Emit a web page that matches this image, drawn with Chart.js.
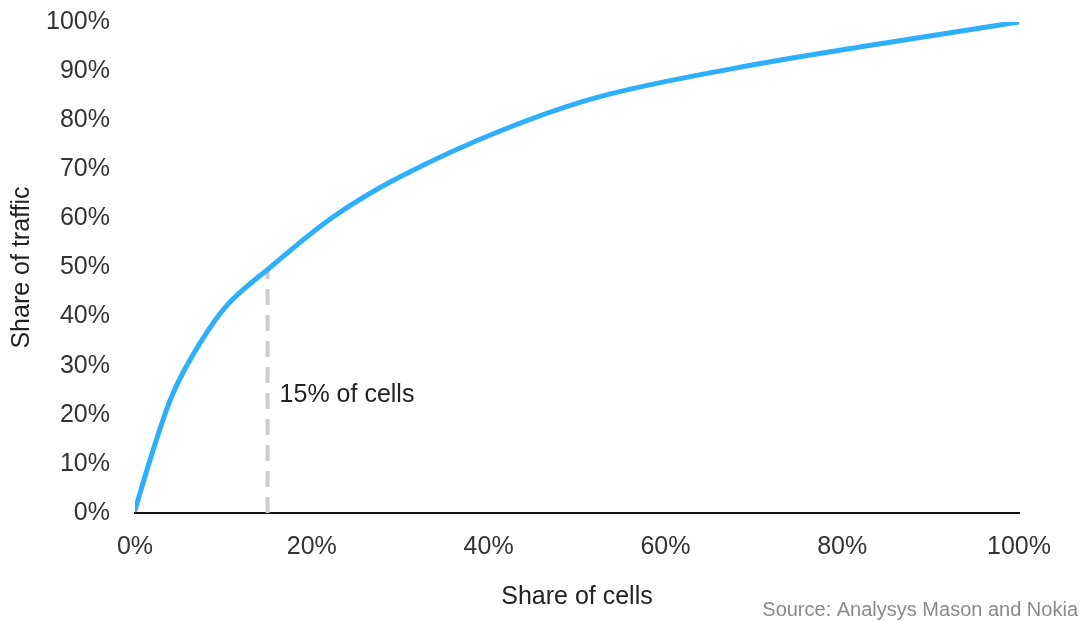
<!DOCTYPE html>
<html>
<head>
<meta charset="utf-8">
<script src="https://cdn.jsdelivr.net/npm/chart.js@4"></script>
<style>
  html, body { margin: 0; padding: 0; background: #fff; }
  #wrap { width: 1080px; height: 621px; }
</style>
</head>
<body>
<div id="wrap"><canvas id="myChart" width="1080" height="621"></canvas></div>
<script>
// share of cells (%) and share of traffic (%)
const cellShare = [0, 2, 4.3, 7.35, 10.5, 15, 22.4, 30, 41.3, 52.6, 67.6, 82.7, 100];
const trafficShare = [0.6, 12.5, 24.4, 34.6, 42.5, 49.6, 60.3, 68.5, 77.8, 84.8, 90.5, 95.1, 100];

// 15% marker
const markerX = [15, 15];
const markerY = [0, 50];
const markerLabel = '15% of cells';

const yTicks = [0, 10, 20, 30, 40, 50, 60, 70, 80, 90, 100];
const xTicks = [0, 20, 40, 60, 80, 100];

const FONT = "'Liberation Sans', Arial, sans-serif";

// 주석 그리기 (라벨 + 출처)
const notes = {
    id: 'notes',
    afterDatasetsDraw(chart) {
        const ctx = chart.ctx;
        const x = chart.scales.x, y = chart.scales.y;
        ctx.save();
        ctx.font = '25px ' + FONT;
        ctx.fillStyle = '#222';
        ctx.textAlign = 'left';
        ctx.textBaseline = 'middle';
        ctx.fillText(markerLabel, x.getPixelForValue(markerX[0]) + 12, y.getPixelForValue(24));
        ctx.font = '20px ' + FONT;
        ctx.fillStyle = '#8a8a8a';
        ctx.textAlign = 'right';
        ctx.fillText('Source: Analysys Mason and Nokia', 1078, 610);
        ctx.restore();
    }
};

const points = cellShare.map((v, i) => ({x: v, y: trafficShare[i]}));
const marker = markerX.map((v, i) => ({x: v, y: markerY[i]}));

new Chart(document.getElementById('myChart').getContext('2d'), {
    type: 'scatter',
    data: {
        datasets: [{
            data: marker,
            showLine: true,
            borderColor: '#cccccc',
            borderWidth: 4,
            borderDash: [16, 10],
            pointRadius: 0,
            order: 2
        }, {
            data: points,
            showLine: true,
            borderColor: '#2eaffb',
            borderWidth: 5,
            borderCapStyle: 'round',
            borderJoinStyle: 'round',
            pointRadius: 0,
            tension: 0.35,
            order: 1
        }]
    },
    plugins: [notes],
    options: {
        responsive: false,
        animation: false,
        layout: { padding: { left: 0, right: 61, top: 22, bottom: 0 } },
        plugins: { legend: { display: false }, tooltip: { enabled: false } },
        scales: {
            x: {
                type: 'linear', min: 0, max: 100,
                afterBuildTicks: s => { s.ticks = xTicks.map(v => ({value: v})); },
                afterFit: s => { s.height = 108; s.paddingLeft = 0; s.paddingRight = 0; },
                grid: { display: false, drawTicks: false },
                border: { display: true, color: '#111', width: 2 },
                ticks: {
                    padding: 19, color: '#333',
                    font: { family: FONT, size: 25 },
                    callback: v => v + '%'
                },
                title: {
                    display: true, text: 'Share of cells', color: '#222',
                    font: { family: FONT, size: 25 },
                    padding: { top: 0, bottom: 9 }
                }
            },
            y: {
                type: 'linear', min: 0, max: 100,
                afterBuildTicks: s => { s.ticks = yTicks.map(v => ({value: v})); },
                afterFit: s => { s.width = 135; s.paddingTop = 0; s.paddingBottom = 0; },
                grid: { display: false, drawTicks: false },
                border: { display: false },
                ticks: {
                    padding: 25, color: '#333',
                    font: { family: FONT, size: 25 },
                    callback: v => v + '%'
                },
                title: {
                    display: true, text: 'Share of traffic', color: '#222',
                    font: { family: FONT, size: 25 },
                    padding: { top: 7, bottom: 0 }
                }
            }
        }
    }
});
</script>
</body>
</html>
